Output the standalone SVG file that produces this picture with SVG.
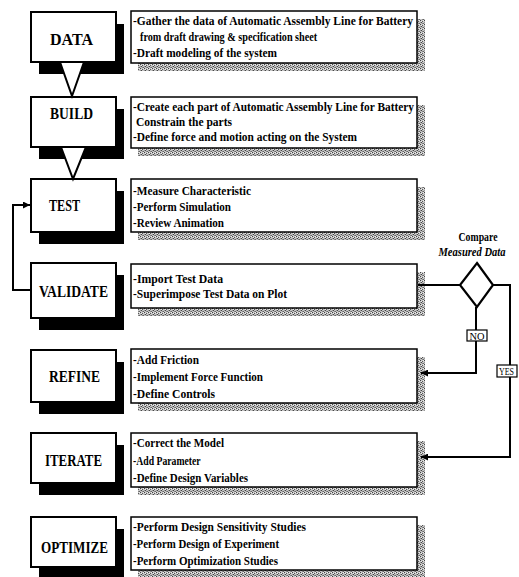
<svg xmlns="http://www.w3.org/2000/svg" width="519" height="577" viewBox="0 0 519 577">
<defs>
<pattern id="dith" width="4" height="4" patternUnits="userSpaceOnUse">
<rect width="4" height="4" fill="#c4c4c4"/>
<rect x="0" y="0" width="1" height="1" fill="#444"/>
<rect x="2" y="1" width="1" height="1" fill="#555"/>
<rect x="1" y="2" width="1" height="1" fill="#444"/>
<rect x="3" y="3" width="1" height="1" fill="#666"/>
<rect x="2" y="3" width="1" height="1" fill="#888"/>
<rect x="0" y="2" width="1" height="1" fill="#999"/>
<rect x="3" y="0" width="1" height="1" fill="#eee"/>
<rect x="1" y="1" width="1" height="1" fill="#eee"/>
</pattern>
<marker id="arr" viewBox="0 0 10 10" refX="10" refY="5" markerWidth="9" markerHeight="7" markerUnits="userSpaceOnUse" orient="auto">
<path d="M0,0 L10,5 L0,10 z" fill="#000"/>
</marker>
</defs>
<style>
.sh{fill:#000}
.bx{fill:#fff;stroke:#000;stroke-width:2}
.tsh{fill:url(#dith)}
.tb{fill:#fff;stroke:#000;stroke-width:1.5}
.lbl{font-family:"Liberation Serif","Times New Roman",serif;font-weight:bold;font-size:16px;fill:#000}
.t{font-family:"Liberation Serif","Times New Roman",serif;font-weight:bold;font-size:13.5px;fill:#000}
.tri{fill:#fff;stroke:#000;stroke-width:2;stroke-linejoin:miter}
.ln{fill:none;stroke:#000;stroke-width:2}
.sm{font-family:"Liberation Serif","Times New Roman",serif;font-size:11px;fill:#000}
.cap{font-family:"Liberation Serif","Times New Roman",serif;font-weight:bold;font-size:12.5px;fill:#000}
</style>
<rect width="519" height="577" fill="#fff"/>

<g id="data">
<rect class="sh" x="39" y="24" width="85" height="50"/>
<rect class="bx" x="31" y="12" width="85" height="50"/>
<text class="lbl" x="50" y="45" textLength="43" lengthAdjust="spacingAndGlyphs">DATA</text>
<rect class="tsh" x="138" y="19" width="287" height="52"/>
<rect class="tb" x="131" y="11" width="286" height="52"/>
<text class="t" x="133" y="25" textLength="280" lengthAdjust="spacingAndGlyphs">-Gather the data of Automatic Assembly Line for Battery</text>
<text class="t" transform="translate(140,41) scale(0.755,1)">from draft drawing &amp; specification sheet</text>
<text class="t" x="133" y="57" textLength="144" lengthAdjust="spacingAndGlyphs">-Draft modeling of the system</text>
</g>

<g id="build">
<rect class="sh" x="39" y="109" width="85" height="50"/>
<rect class="bx" x="31" y="97" width="85" height="50"/>
<text class="lbl" x="50" y="119" textLength="43" lengthAdjust="spacingAndGlyphs">BUILD</text>
<rect class="tsh" x="138" y="105" width="287" height="51"/>
<rect class="tb" x="131" y="97" width="286" height="51"/>
<text class="t" x="133" y="111" textLength="281" lengthAdjust="spacingAndGlyphs">-Create each part of Automatic Assembly Line for Battery</text>
<text class="t" x="136" y="126" textLength="96" lengthAdjust="spacingAndGlyphs">Constrain the parts</text>
<text class="t" x="133" y="141" textLength="224" lengthAdjust="spacingAndGlyphs">-Define force and motion acting on the System</text>
</g>

<g id="test">
<rect class="sh" x="39" y="191" width="85" height="53"/>
<rect class="bx" x="31" y="179" width="85" height="53"/>
<text class="lbl" x="49" y="211" textLength="31" lengthAdjust="spacingAndGlyphs">TEST</text>
<rect class="tsh" x="138" y="187" width="287" height="53"/>
<rect class="tb" x="131" y="179" width="286" height="53"/>
<text class="t" x="133" y="195" textLength="118" lengthAdjust="spacingAndGlyphs">-Measure Characteristic</text>
<text class="t" x="133" y="211" textLength="98" lengthAdjust="spacingAndGlyphs">-Perform Simulation</text>
<text class="t" x="133" y="227" textLength="91" lengthAdjust="spacingAndGlyphs">-Review Animation</text>
</g>

<g id="validate">
<rect class="sh" x="39" y="275" width="85" height="55"/>
<rect class="bx" x="31" y="263" width="85" height="55"/>
<text class="lbl" x="39" y="297" textLength="69" lengthAdjust="spacingAndGlyphs">VALIDATE</text>
<rect class="tsh" x="138" y="272" width="287" height="44"/>
<rect class="tb" x="131" y="264" width="286" height="44"/>
<text class="t" x="133" y="283" textLength="90" lengthAdjust="spacingAndGlyphs">-Import Test Data</text>
<text class="t" x="133" y="298" textLength="154" lengthAdjust="spacingAndGlyphs">-Superimpose Test Data on Plot</text>
</g>

<g id="refine">
<rect class="sh" x="39" y="362" width="85" height="52"/>
<rect class="bx" x="31" y="350" width="85" height="52"/>
<text class="lbl" x="49" y="382" textLength="51" lengthAdjust="spacingAndGlyphs">REFINE</text>
<rect class="tsh" x="138" y="357" width="287" height="54"/>
<rect class="tb" x="131" y="349" width="286" height="54"/>
<text class="t" x="133" y="364" textLength="66" lengthAdjust="spacingAndGlyphs">-Add Friction</text>
<text class="t" x="133" y="381" textLength="130" lengthAdjust="spacingAndGlyphs">-Implement Force Function</text>
<text class="t" x="133" y="398" textLength="82" lengthAdjust="spacingAndGlyphs">-Define Controls</text>
</g>

<g id="iterate">
<rect class="sh" x="39" y="445" width="85" height="50"/>
<rect class="bx" x="31" y="433" width="85" height="50"/>
<text class="lbl" x="45" y="466" textLength="57" lengthAdjust="spacingAndGlyphs">ITERATE</text>
<rect class="tsh" x="138" y="441" width="287" height="54"/>
<rect class="tb" x="131" y="433" width="286" height="54"/>
<text class="t" x="133" y="447" textLength="91" lengthAdjust="spacingAndGlyphs">-Correct the Model</text>
<text class="t" transform="translate(133,465) scale(0.72,1)">-Add Parameter</text>
<text class="t" x="133" y="482" textLength="115" lengthAdjust="spacingAndGlyphs">-Define Design Variables</text>
</g>

<g id="optimize">
<rect class="sh" x="39" y="529" width="85" height="48"/>
<rect class="bx" x="31" y="517" width="85" height="50"/>
<text class="lbl" x="41" y="553" textLength="67" lengthAdjust="spacingAndGlyphs">OPTIMIZE</text>
<rect class="tsh" x="138" y="525" width="287" height="52"/>
<rect class="tb" x="131" y="517" width="286" height="53"/>
<text class="t" x="133" y="531" textLength="173" lengthAdjust="spacingAndGlyphs">-Perform Design Sensitivity Studies</text>
<text class="t" x="133" y="548" textLength="146" lengthAdjust="spacingAndGlyphs">-Perform Design of Experiment</text>
<text class="t" x="133" y="565" textLength="145" lengthAdjust="spacingAndGlyphs">-Perform Optimization Studies</text>
</g>

<g id="compare">
<text class="cap" x="478" y="241" text-anchor="middle" textLength="39" lengthAdjust="spacingAndGlyphs">Compare</text>
<text class="cap" x="472" y="256" text-anchor="middle" font-style="italic" textLength="67" lengthAdjust="spacingAndGlyphs">Measured Data</text>
<polygon points="477,263 493,285 477,307 460,285" fill="#fff" stroke="#000" stroke-width="2.2"/>
</g>

<g id="connectors">
<polygon class="tri" points="60,62 84,62 72,96"/>
<polygon class="tri" points="61,147 86,147 73,179"/>
<polyline class="ln" points="31,290 13,290 13,205 30,205" marker-end="url(#arr)"/>
<line class="ln" x1="418" y1="285" x2="460" y2="285"/>
<polyline class="ln" points="476,307 476,373 421,373" marker-end="url(#arr)"/>
<polyline class="ln" points="493,285 510,285 510,457 421,457" marker-end="url(#arr)"/>
<rect x="467" y="330" width="20" height="11" fill="#fff" stroke="#000" stroke-width="1.2"/>
<text class="sm" x="477" y="339.5" text-anchor="middle" textLength="15" lengthAdjust="spacingAndGlyphs">NO</text>
<rect x="497" y="365" width="20" height="12" fill="#fff" stroke="#000" stroke-width="1.2"/>
<text class="sm" x="499" y="375" textLength="15" lengthAdjust="spacingAndGlyphs">YES</text>
</g>
</svg>
